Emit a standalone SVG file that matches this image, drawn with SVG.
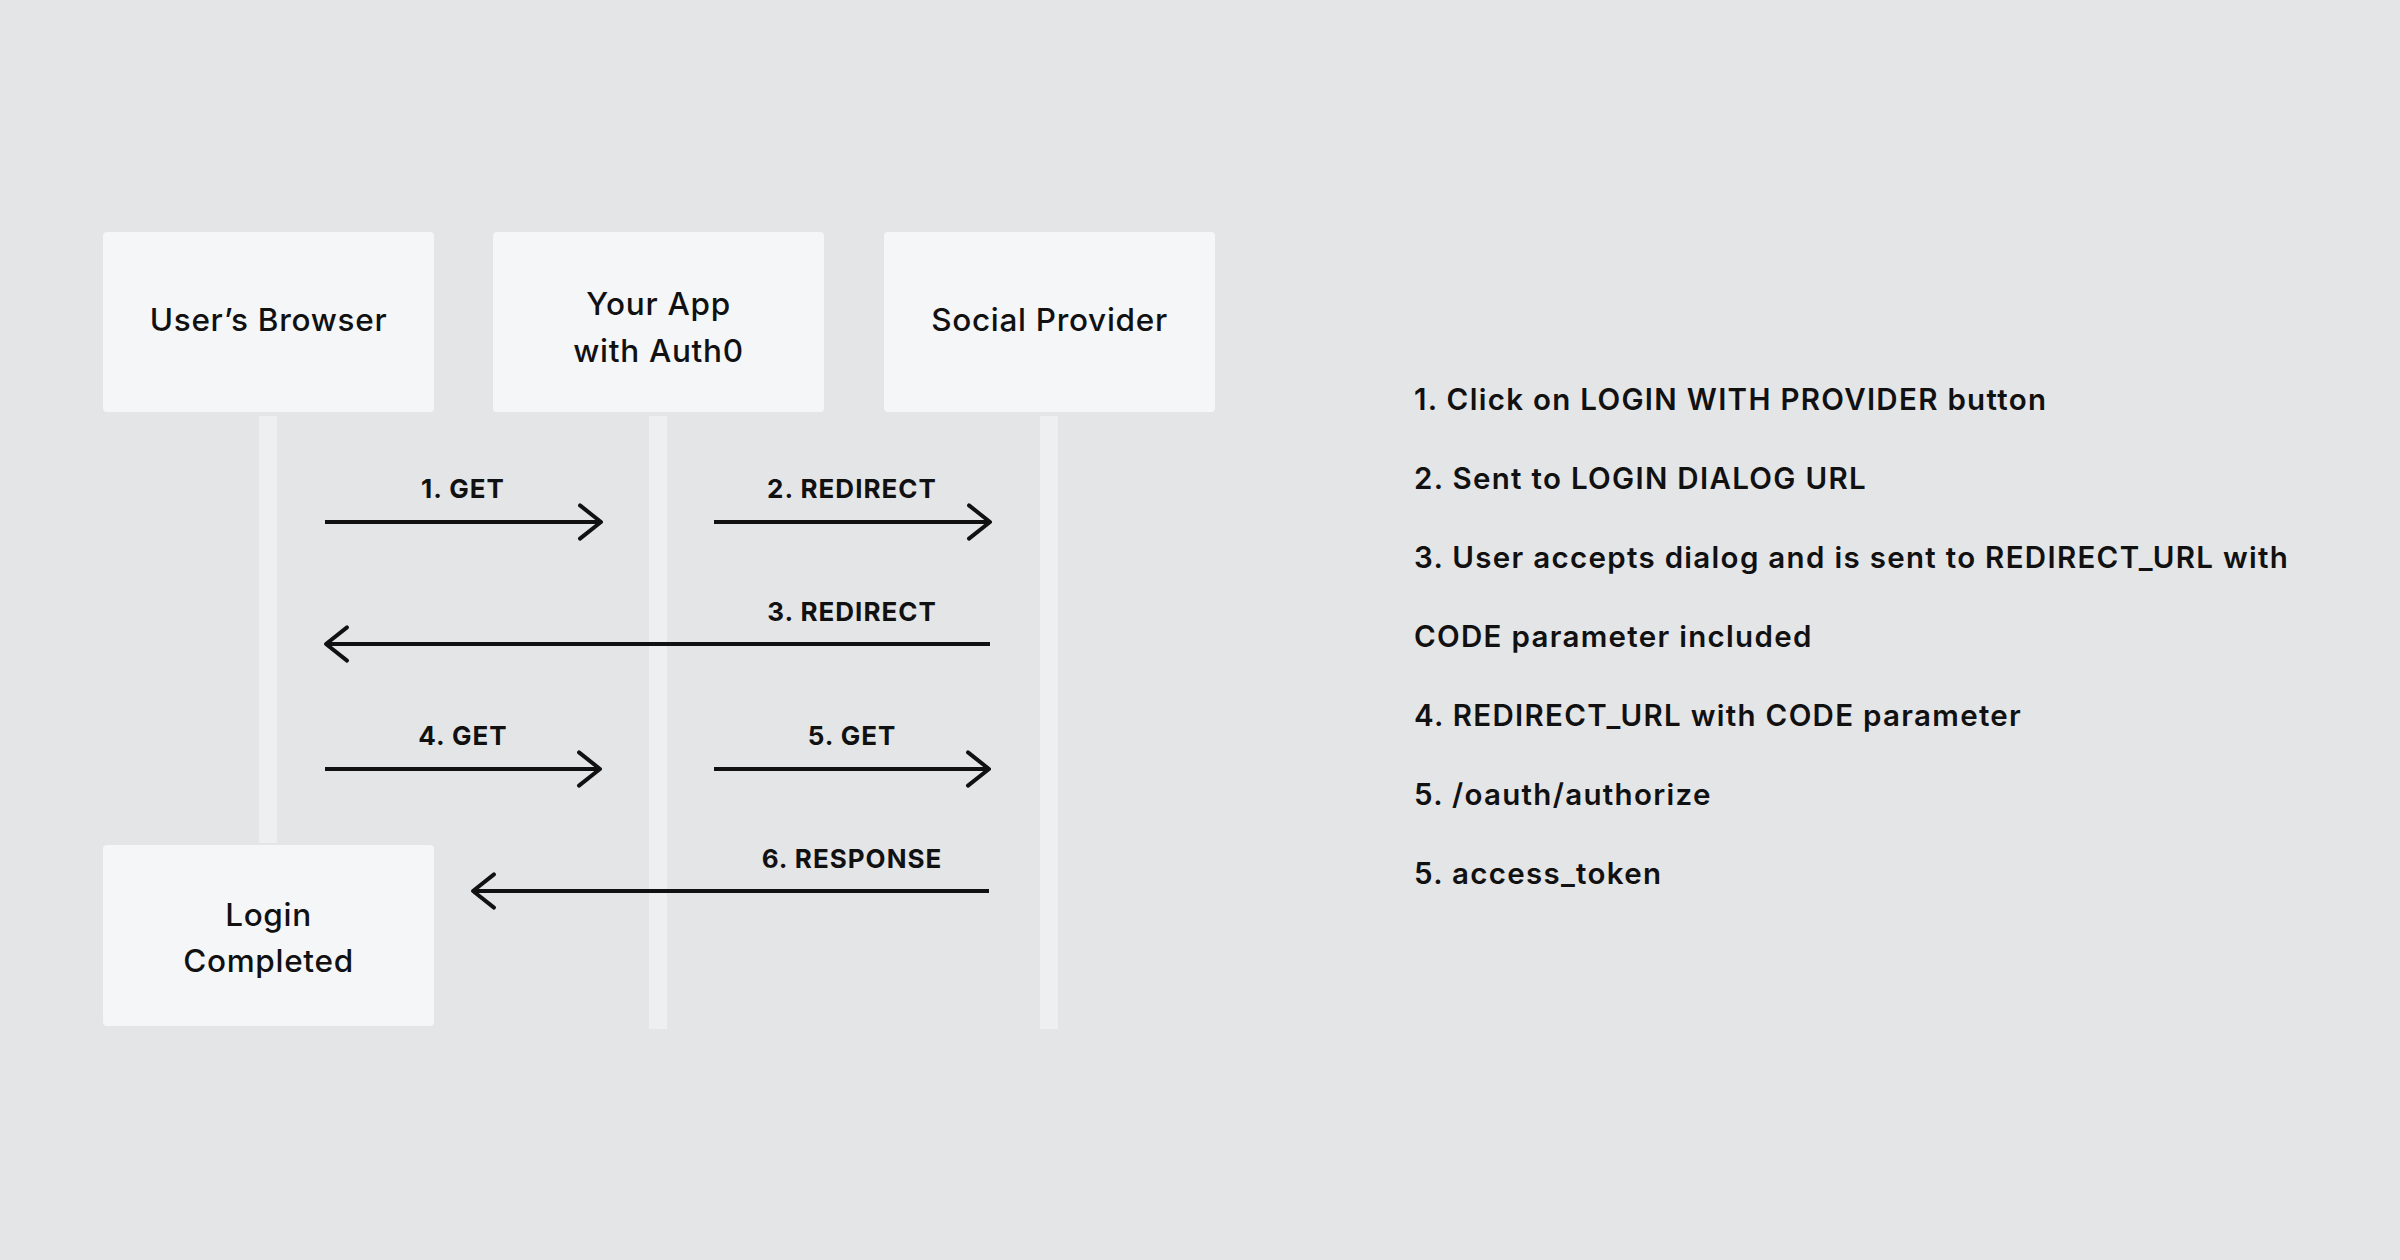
<svg xmlns="http://www.w3.org/2000/svg" width="2400" height="1260" viewBox="0 0 2400 1260">
<defs>
<style>
.node{fill:#f5f6f8}
.life{fill:#eeeff1}
.nt{font-family:Inter,"Liberation Sans",sans-serif;font-size:31.5px;font-weight:500;letter-spacing:0.7px;fill:#111;text-anchor:middle}
.lbl{font-family:Inter,"Liberation Sans",sans-serif;font-size:26px;font-weight:700;letter-spacing:1px;fill:#111;text-anchor:middle}
.lst{font-family:Inter,"Liberation Sans",sans-serif;font-size:29.5px;font-weight:600;letter-spacing:1.3px;fill:#111}
.arr{stroke:#111;stroke-width:4;fill:none;marker-end:url(#ah)}
</style>
<marker id="ah" markerUnits="userSpaceOnUse" markerWidth="40" markerHeight="40" refX="0" refY="0" orient="auto" overflow="visible">
<path d="M-21,-16.6 L0,0 L-21,16.6" fill="none" stroke="#111" stroke-width="4" stroke-linecap="round" stroke-linejoin="round"/>
</marker>
</defs>
<rect width="2400" height="1260" fill="#e4e5e7"/>
<g id="lifelines">
<rect class="life" x="259" y="416" width="18" height="427"/>
<rect class="life" x="649" y="416" width="18" height="613"/>
<rect class="life" x="1040" y="416" width="18" height="613"/>
</g>
<g id="node-browser">
<rect class="node" x="103" y="232" width="331" height="180" rx="4"/>
<text class="nt" x="268.5" y="331">User’s Browser</text>
</g>
<g id="node-app">
<rect class="node" x="493" y="232" width="331" height="180" rx="4"/>
<text class="nt" x="658.5" y="315">Your App</text>
<text class="nt" x="658.5" y="362">with Auth0</text>
</g>
<g id="node-provider">
<rect class="node" x="884" y="232" width="331" height="180" rx="4"/>
<text class="nt" x="1049.5" y="331">Social Provider</text>
</g>
<g id="node-login">
<rect class="node" x="103" y="845" width="331" height="181" rx="4"/>
<text class="nt" x="268.5" y="926">Login</text>
<text class="nt" x="268.5" y="972">Completed</text>
</g>
<g id="connectors">
<line class="arr" x1="325" y1="522" x2="601" y2="522"/>
<line class="arr" x1="714" y1="522" x2="990" y2="522"/>
<line class="arr" x1="990" y1="644" x2="326" y2="644"/>
<line class="arr" x1="325" y1="769" x2="600" y2="769"/>
<line class="arr" x1="714" y1="769" x2="989" y2="769"/>
<line class="arr" x1="989" y1="891" x2="473" y2="891"/>
<text class="lbl" x="463" y="498">1. GET</text>
<text class="lbl" x="852" y="498">2. REDIRECT</text>
<text class="lbl" x="852" y="621">3. REDIRECT</text>
<text class="lbl" x="463" y="745">4. GET</text>
<text class="lbl" x="852" y="745">5. GET</text>
<text class="lbl" x="852" y="868">6. RESPONSE</text>
</g>
<g id="steps">
<text class="lst" x="1414" y="410">1. Click on LOGIN WITH PROVIDER button</text>
<text class="lst" x="1414" y="489">2. Sent to LOGIN DIALOG URL</text>
<text class="lst" x="1414" y="568">3. User accepts dialog and is sent to REDIRECT_URL with</text>
<text class="lst" x="1414" y="647">CODE parameter included</text>
<text class="lst" x="1414" y="726">4. REDIRECT_URL with CODE parameter</text>
<text class="lst" x="1414" y="805">5. /oauth/authorize</text>
<text class="lst" x="1414" y="884">5. access_token</text>
</g>
</svg>
